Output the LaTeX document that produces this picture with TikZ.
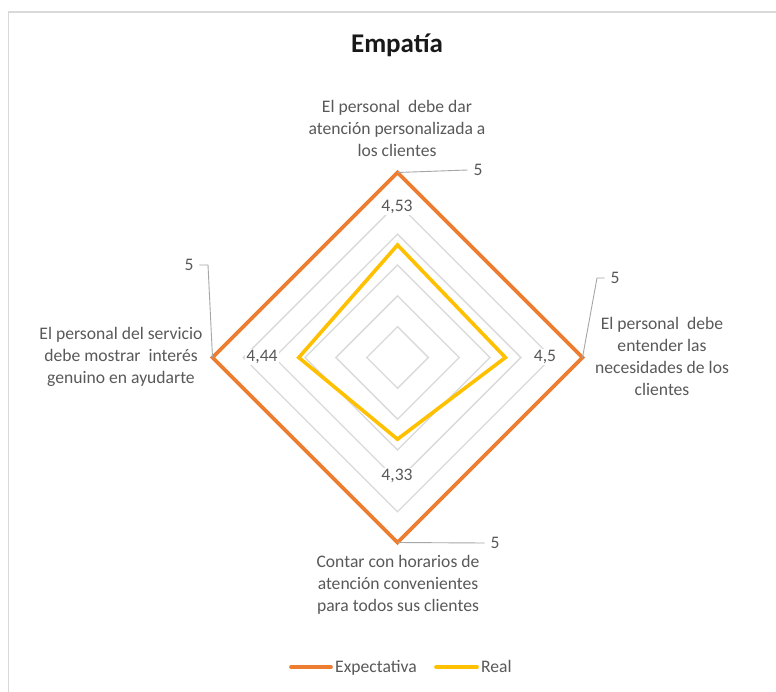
\documentclass[tikz,border=0pt]{standalone}
\usepackage{fontspec}
\setmainfont{Carlito}
\definecolor{txtgray}{HTML}{595959}
\definecolor{gridgray}{HTML}{D9D9D9}
\definecolor{leadgray}{HTML}{A6A6A6}
\definecolor{expcol}{HTML}{ED7D31}
\definecolor{realcol}{HTML}{FFC000}
\begin{document}
\begin{tikzpicture}[x=1bp,y=-1bp,
  cat/.style={text=txtgray,align=center,inner sep=0pt,font=\fontsize{17.6bp}{22bp}\selectfont},
  val/.style={text=txtgray,inner sep=1.5bp,fill=white,font=\fontsize{17.6bp}{22bp}\selectfont},
  five/.style={text=txtgray,inner sep=0pt,outer sep=6bp,font=\fontsize{17.6bp}{22bp}\selectfont},
  legtext/.style={text=txtgray,inner sep=0pt,font=\fontsize{17.6bp}{22bp}\selectfont},
  ring/.style={draw=gridgray,line width=1.3bp},
  leader/.style={draw=leadgray,line width=0.9bp},
  serexp/.style={draw=expcol,line width=3.6bp,line join=miter},
  serreal/.style={draw=realcol,line width=3.6bp,line join=miter},
  legline/.style={line width=3.6bp,line cap=round}]
\useasboundingbox (0,0) rectangle (776,692);
\fill[white] (0,0) rectangle (776,692);
% chart frame
\draw[gridgray,line width=1.2bp] (8.5,700) -- (8.5,12) -- (790,12);

% title
\node[font=\fontsize{27bp}{30bp}\selectfont\bfseries,text=black!90] (title) at (397,45) {Empatía};

% radar grid: scale 3.8 to 5.0 in steps of 0.2
\begin{scope}[shift={(397.5,357.5)}]
  \foreach \r in {30.83,61.67,92.5,123.33,154.17,185}
    \draw[ring] (0,-\r) -- (\r,0) -- (0,\r) -- (-\r,0) -- cycle;
  % Expectativa: 5, 5, 5, 5
  \coordinate (eT) at (0,-185);
  \coordinate (eR) at (185,0);
  \coordinate (eB) at (0,185);
  \coordinate (eL) at (-185,0);
  % Real: 4.53, 4.5, 4.33, 4.44
  \coordinate (rT) at (0,-112.5);
  \coordinate (rR) at (107.9,0);
  \coordinate (rB) at (0,81.7);
  \coordinate (rL) at (-98.7,0);
\end{scope}
\draw[serexp] (eT) -- (eR) -- (eB) -- (eL) -- cycle;
\draw[serreal] (rT) -- (rR) -- (rB) -- (rL) -- cycle;

% data labels of the Real series
\node[val] (vT) at (397,207) {4,53};
\node[val] (vR) at (545,357) {4,5};
\node[val] (vL) at (262,357) {4,44};
\node[val] (vB) at (397,476) {4,33};

% data labels of the Expectativa series with leader lines
\node[five] (fT) at (478,170) {5};
\node[five] (fR) at (615,278) {5};
\node[five] (fL) at (189,265) {5};
\node[five] (fB) at (495,543) {5};
\coordinate (kR) at (597,278);
\coordinate (kL) at (208,265);
\draw[leader] (eT) -- (fT.west);
\draw[leader] (eR) -- (kR) -- (fR.west);
\draw[leader] (eL) -- (kL) -- (fL.east);
\draw[leader] (eB) -- (fB.west);

% category labels
\node[cat] (cT) at (397,128) {El personal \ debe dar\\atención personalizada a\\los clientes};
\node[cat] (cR) at (662,356) {El personal \ debe\\entender las\\necesidades de los\\clientes};
\node[cat] (cL) at (121,357) {El personal del servicio\\debe mostrar \ interés\\genuino en ayudarte};
\node[cat] (cB) at (398,585) {Contar con horarios de\\atención convenientes\\para todos sus clientes};

% legend
\coordinate (l1a) at (291,667);
\coordinate (l1b) at (331,667);
\coordinate (l2a) at (436,667);
\coordinate (l2b) at (477,667);
\draw[legline,expcol] (l1a) -- (l1b);
\node[legtext,anchor=base west] (lexp) at (335,672.5) {Expectativa};
\draw[legline,realcol] (l2a) -- (l2b);
\node[legtext,anchor=base west] (lreal) at (481,672.5) {Real};
\end{tikzpicture}
\end{document}
